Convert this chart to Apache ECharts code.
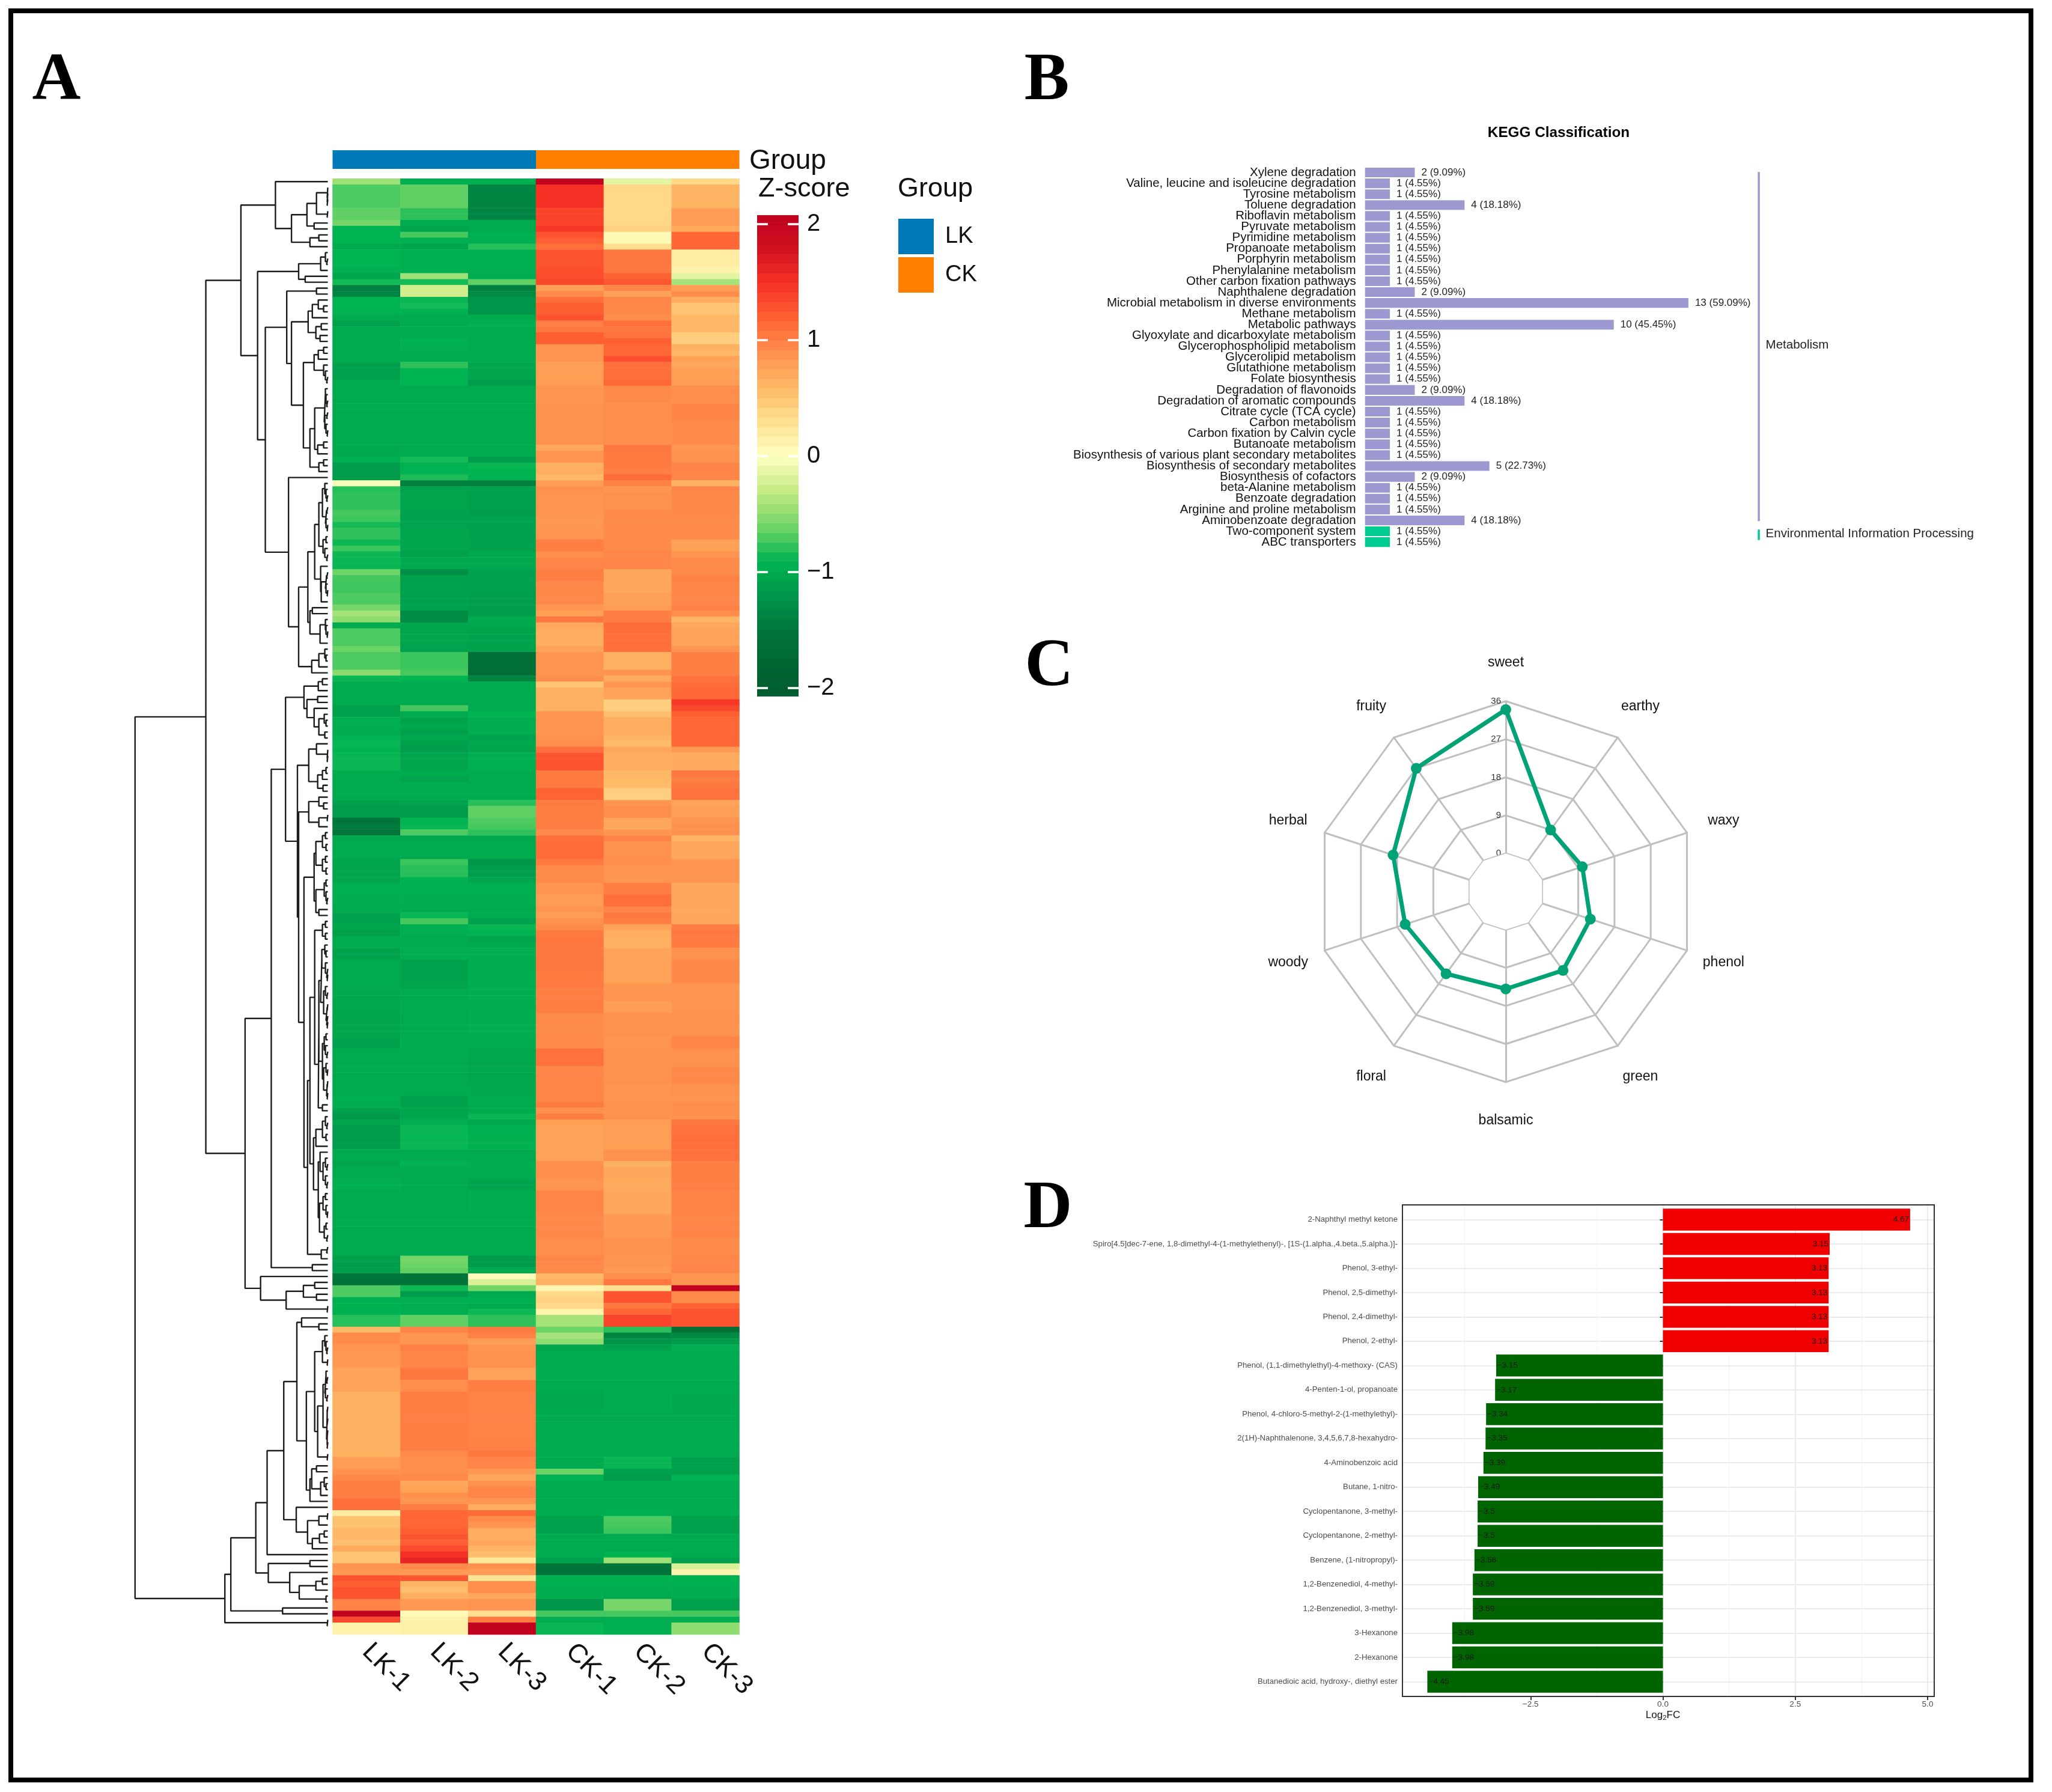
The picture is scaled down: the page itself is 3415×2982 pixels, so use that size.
<!DOCTYPE html>
<html><head><meta charset="utf-8">
<style>html,body{margin:0;padding:0;background:#fff}#c{width:3415px;height:2982px}</style>
<script src="https://cdn.jsdelivr.net/npm/echarts@6/dist/echarts.min.js"></script>
</head><body><div id="c"></div>
<script>
// ---------- Panel A: heatmap ----------
const samples = ['LK-1','LK-2','LK-3','CK-1','CK-2','CK-3'];
const groupNames = ['LK','CK'];
const groupSizes = [3,3];
const zTicks = [2,1,0,-1,-2];
// each band: [row count, z-score per sample]
const heatBands = [
[1,-.45,-.95,-.95,2.05,-.15,.35],[4,-.7,-.65,-1.35,1.5,.35,.62],[2,-.65,-.78,-1.35,1.38,.35,.8],[1,-.6,-1,-1,1.38,.35,.8],
[1,-.9,-1.05,-1,1.45,.4,.7],[1,-.9,-.72,-.95,1.28,.06,1.15],[1,-.9,-.95,-.95,1.2,.06,1.15],[1,-1,-1.05,-.8,1.1,.3,1.15],
[3,-.9,-.95,-.95,1.27,1.05,.18],[1,-.95,-.95,-.95,1.3,1.05,.12],[1,-1.05,-.45,-1,1.32,1.18,-.15],[1,-.85,-.85,-.65,1.35,1.25,-.42],
[1,-1.4,-.25,-1.4,.78,.95,.78],[1,-1.35,-.25,-1.3,.92,.76,.9],[1,-.9,-.88,-1.2,1.1,.95,.68],[1,-.9,-.85,-1.2,1.2,.93,.5],
[1,-.92,-.92,-1.2,1.2,.93,.5],[1,-1,-1,-1,1.27,.9,.6],[1,-1.1,-1,-.95,1,1.1,.6],[1,-1,-1,-1,1.05,1.05,.6],
[1,-1,-1,-1,1.2,1.07,.42],[1,-1,-.92,-1,1.2,1.2,.42],[1,-1,-.95,-1,.85,1.15,.65],[1,-1,-1,-1,.85,1.15,.6],
[1,-1,-1,-1,.85,1.3,.75],[1,-1.1,-.78,-1.05,.78,1.1,.72],[1,-1.1,-.9,-1.05,.78,1.1,.78],[1,-1.1,-.9,-1.05,.78,1.1,.78],
[1,-1,-.9,-1.15,.8,1.15,.8],[3,-1,-1,-1,.85,.92,.9],[3,-1,-1,-1,.87,.9,.96],
[4,-1,-1,-1,.88,.9,.92],[1,-1,-1,-1,.72,1.05,.85],[1,-1.02,-1,-1,.85,1.03,.88],[1,-.95,-.85,-1.12,.85,1.03,.88],
[1,-1.15,-.92,-.88,.65,1.03,.95],[1,-1.15,-.92,-.9,.68,1,.95],[1,-1.15,-.82,-.92,.6,1.12,.95],[1,-.05,-1.4,-1.4,.8,.98,.65],
[1,-.8,-1.08,-1.08,.88,.85,.95],[3,-.78,-1.05,-1.1,.85,.88,.93],[1,-.72,-1.08,-1.12,.85,.92,.93],[1,-.74,-1.08,-1.08,.83,.92,.92],
[1,-.85,-1.08,-1.08,.83,.92,.92],[2,-.78,-1.05,-1.08,.85,.92,.92],[1,-.87,-1.05,-1.08,1,.92,.76],[1,-.75,-1.05,-1.08,1,.92,.76],
[1,-.87,-1.1,-1.02,.9,.95,.85],[2,-.88,-1.02,-1.02,.95,.95,.92],[1,-.62,-1.25,-1.08,1,.72,.92],[1,-.72,-1.1,-1.08,1,.72,.98],
[2,-.74,-1.07,-1.1,.93,.72,.95],[2,-.7,-1.1,-1.12,.93,.78,.95],[1,-.6,-1.07,-1.12,.85,.8,.98],[1,-.42,-1.3,-1.12,.78,1,.9],
[1,-.5,-1.3,-1,1.05,1,.62],[1,-1,-1.05,-1.03,.72,1.12,.72],[3,-.7,-1.05,-1.07,.68,1.1,.75],[1,-.62,-1.08,-1.08,.75,1.08,.85],
[3,-.7,-.75,-1.6,.85,.65,1],
[1,-.52,-.72,-1.65,.85,.85,1],[1,-.88,-.9,-1.35,.9,.7,1.08],[1,-1,-1,-1,.5,.85,1.12],[2,-1,-1,-1,.65,.75,1.15],
[1,-1,-1,-1,.65,.42,1.45],[1,-1.1,-.72,-1,.65,.42,1.35],[1,-1.1,-1,-.9,.85,.55,1.2],[1,-.95,-1.08,-.97,.85,.68,1.15],
[1,-.97,-1.02,-.97,.85,.68,1.15],[1,-.98,-1.1,-.97,.85,.68,1.15],[1,-.92,-1.02,-1.07,.87,.62,1.15],[1,-.88,-1.1,-1.02,.9,.58,1.15],
[1,-.9,-1.12,-1.05,1.1,.72,.82],[3,-.88,-1.05,-.95,1.27,.68,.7],[1,-.98,-1,-1,1.03,.6,1.05],[1,-1,-1.06,-1,1.03,.6,1],
[1,-1,-.97,-1,1.03,.58,1.05],[2,-1,-1,-1,1.18,.42,1.08],[1,-1.1,-1.08,-.8,1.02,.85,.75],[2,-1.15,-1.15,-.65,1,.9,.78],
[1,-1.5,-.9,-.7,1,.72,.85],[1,-1.45,-.88,-.72,1,.72,.88],[1,-1.5,-.7,-.78,.92,.85,.88],[1,-1.02,-1.02,-1.02,1.1,.97,.62],
[3,-1,-1,-1,1.12,.88,.72],[1,-1.05,-.75,-1.2,1.03,.9,.85],[2,-1.05,-.8,-1.12,.92,.85,.85],[1,-1.05,-.92,-1.05,.92,.85,.85],
[2,-.95,-.95,-.95,.85,1,.72],[2,-.97,-.97,-.97,.8,1.1,.72],[1,-1,-1,-1,.85,.95,.72],
[1,-1.08,-.88,-1,.8,1.05,.72],[1,-1.08,-.72,-1.07,.88,1,.72],[1,-1.05,-.95,-.88,.92,.75,1],[1,-1.1,-.95,-.92,1.03,.68,1.05],
[1,-1,-1,-1.05,1.05,.65,1.02],[1,-1,-1,-1.02,1.05,.65,1.02],[2,-1.08,-.97,-.97,1.05,.75,.88],[2,-1,-1.07,-.97,1.05,.75,.93],
[2,-1,-1.07,-.97,1.02,.75,.93],[1,-1,-1.05,-.97,1.02,.85,.85],[2,-1.03,-1,-.97,1,.85,.85],[1,-1.03,-.97,-.97,1,.78,.85],
[1,-1.03,-1,-.97,1,.8,.85],[4,-1.05,-1,-.97,.92,.88,.87],[2,-1.08,-.97,-.98,.92,.85,.95],[3,-1,-1,-1.03,1.08,.88,.88],
[3,-1,-1,-1.03,.95,.88,.93],[2,-1,-1,-1.02,.95,.85,.88],[1,-.95,-1.1,-1,.95,.85,.85],[1,-.97,-1.08,-1,1.03,.88,.9],
[1,-1.08,-1.05,-1,.88,.88,.9],[1,-1.18,-1.05,-.88,1,.88,.88],[1,-1.05,-.95,-1.03,.78,.8,1.05],[2,-1.15,-.88,-.93,.75,.78,1.08],
[2,-1.15,-.88,-.93,.75,.78,1.1],[2,-1,-1,-1,.75,.88,1.08],
[1,-1.05,-.92,-.97,.88,.65,1],[2,-1,-1,-.98,.9,.72,1],[2,-.95,-1,-1.06,.85,.7,1],[4,-1,-1,-.97,.95,.72,.97],
[4,-1,-1,-1,.93,.82,.95],[3,-1,-1,-1,.9,.88,.92],[1,-1.1,-.6,-1.15,.95,.85,.95],[1,-1.13,-.62,-1.15,.93,.85,.95],
[1,-1.12,-.65,-1,.93,.82,.95],[1,-1.5,-1.5,.05,.6,.9,.85],[1,-1.55,-1.55,-.2,.65,1.05,.85],[1,-.7,-.87,-.6,.1,.3,2.05],
[1,-.7,-1.15,-1,.35,1.27,.92],[1,-.95,-.95,-.95,.4,1.27,.92],[1,-.93,-.97,-1,.35,1.05,1.18],[1,-.93,-.97,-.87,.12,1.15,1.27],
[2,-.8,-.65,-.78,-.42,1.38,1.27],[1,.6,.97,1.03,-.62,-.8,-1.6],[1,.92,.85,.98,-.42,-1.35,-1.3],[1,.92,.85,.8,-.5,-1.2,-1.15],
[1,.85,1,.85,-1.05,-1.1,-.95],[3,.82,.95,.87,-1,-1,-1],[2,.75,1.05,.75,-1,-1,-1],[2,.75,.9,1,-1,-1,-1],[3,.65,1,.97,-1.03,-.97,-1.02],
[5,.65,1,.97,-1,-1,-1],[2,.65,1,.98,-1,-1,-1],[1,.65,.92,1.05,-1,-1,-1],[2,.8,.9,.95,-1,-.88,-1.1],[1,.87,.9,.82,-.62,-1.1,-1.1],
[1,.93,.93,.72,-.93,-1.15,-.92],[1,1,.72,.87,-1,-1,-1],[1,1,.75,.95,-1,-1,-1],[1,1,.87,.95,-1,-1,-1],[1,1.1,.85,.85,-1,-1,-1],
[1,1.1,1,.68,-1,-1,-1],[1,.18,1.15,1.12,-.97,-.95,-.97],[1,.52,1.15,.92,-1.07,-.7,-1.07],[1,.52,1.15,.85,-1.08,-.72,-1.08],
[1,.6,1.2,.68,-1.08,-.75,-1.08],[1,.6,1.27,.68,-1,-1,-1],[1,.55,1.2,.72,-1,-1,-1],[1,.7,1.33,.62,-1,-1,-1],[1,.5,1.5,.55,-1,-.9,-1],
[1,.5,1.6,.22,-1.08,-.45,-1.1],[1,.85,.93,.88,-1.55,-1.55,-.2],[1,.82,.82,.8,-1.55,-1.55,.1],[1,1.27,1.25,.25,-.93,-.93,-.93],
[1,1.2,.62,.9,-.95,-.95,-.95],[1,1.27,.55,.9,-.97,-.97,-.97],[1,1.27,.68,.72,-.97,-1.02,-.97],[2,.97,.82,.85,-1.2,-.58,-1.1],
[1,2.05,.05,.3,-.72,-.72,-.72],[1,1.35,.12,1.03,-.97,-.97,-.97],[2,.12,.14,2.05,-.88,-.95,-.5]
];
const zColors = ['#005a2e','#006633','#00753a','#00964a','#00b452','#74d568','#c5ea84','#ffffc0','#ffdf8f','#ffb866','#ff8e4c','#ff5f33','#f53025','#d01020','#bf0020'];
// dendrogram: node = [merge height, upper child, lower child]; L = a single row
const L = 0;
const clusterTop = [88,L,[61,[35,[19,[1,L,[1,L,[1,L,L]]],[1,L,L]],[23,L,L]],[30,[15,L,L],L]]];
const clusterG = [49,[12,[4,L,[2,L,L]],L],[38,L,L]];
const clusterI = [69,[19,L,L],[61,
  [33,[26,[16,L,[7,L,L]],L],[20,[11,L,L],[13,L,L]]],
  [41,[23,[16,[7,L,L],L],[7,L,[4,L,[2,L,L]]]],
      [30,[22,[6,[4,L,[3,L,[2,L,L]]],[5,[2,L,L],[3,L,[1,L,L]]]],[17,[7,L,L],L]],[15,[7,L,L],L]]]]];
const clusterO = [49,
  [33.5,[22,[15,[9,[5,L,[3,L,[2,L,L]]],[4,[2,L,L],[3,L,[1,L,L]]]],[8,[3,L,L],[5,L,[2,L,L]]]],
            [12,L,[11,[4,[2,L,L],[3,L,[1,L,L]]],L]]],
        [30,[26,L,L],[13,[4,L,[3,L,[1,L,L]]],L]]],
  [27,[15,[5,L,[3,L,L]],L],L]];
const clusterT = [40,[16,[9,L,L],L],[35,[17,L,L],[23,L,[15,[6,L,[3,L,L]],[5,L,L]]]]];
const clusterW6 = [22,[9,[4,L,L],[4,L,L]],[16,[15,
  [12,[10,[5,L,[3,L,L]],[4,L,[2,L,[1,L,L]]]],[7,[4,L,[2,L,L]],[3,[1,L,L],[2,L,[1,L,L]]]]],
  [9,[6,[3,L,L],[4,L,[2,L,L]]],[7,[3,L,[1,L,L]],[2,[1,L,L],[1,L,L]]]]],[9,L,L]]];
const clusterW7 = [24,[20,[9,[4,L,[2,L,L]],[3,L,L]],L],[16,[13,L,[8,[4,L,[2,L,L]],[4,L,[2,L,L]]]],[14,[8,[4,L,L],[3,L,[1,L,L]]],[6,[3,L,L],[2,L,L]]]]];
const clusterW = [49,[32,[15,L,[7,L,L]],[15,[1,L,L],L]],[40,
  [23,[20,[9,[4,L,L],[3,L,L]],[9,[4,L,L],[3,L,L]]],[20,[6,[3,L,L],[3,L,[2,L,L]]],[15,L,L]]],
  [34,[30,clusterW6,clusterW7],[11,[2,L,L],L]]]];
const clusterP = [71,clusterT,[51,[32,[19,L,[1,L,[1,L,L]]],[17,[9,[3,L,L],L],[8,L,L]]],clusterW]];
const clusterR = [139,[95,clusterP,[26,L,L]],[113,L,[70,[41,[22,L,L],[19,L,L]],[1,L,L]]]];
const clusterA = [205,[146,clusterTop,[118,clusterG,[105,clusterI,[66,L,clusterO]]]],clusterR];
const cluster495 = [52,[44,L,[15,L,L]],[36,
  [22,[9,[5,L,[3,L,[2,L,L]]],[1,L,L]],[17,[8,[5,[3,L,[2,L,L]],[4,L,[2,L,L]]],[2,[1,[1,L,L],[1,L,L]],[1,[1,L,L],[1,L,L]]]],[1,L,L]]],
  [30,[27,[19,L,L],[12,[6,L,[3,L,L]],L]],L]]];
const cluster493 = [53,L,[34,[15,[1,L,L],L],[26,[14,[6,L,L],L],L]]];
const clusterB = [173,[163,[121,[102,[74,cluster495,cluster493],L],[100,[30,L,L],[64,L,[48,[20,[9,L,L],L],[3,L,L]]]]],[76,L,L]],[1,L,L]];
const rowTree = [324,clusterA,clusterB];

// ---------- Panel B: KEGG ----------
const keggPathways = ['Xylene degradation','Valine, leucine and isoleucine degradation','Tyrosine metabolism','Toluene degradation','Riboflavin metabolism','Pyruvate metabolism','Pyrimidine metabolism','Propanoate metabolism','Porphyrin metabolism','Phenylalanine metabolism','Other carbon fixation pathways','Naphthalene degradation','Microbial metabolism in diverse environments','Methane metabolism','Metabolic pathways','Glyoxylate and dicarboxylate metabolism','Glycerophospholipid metabolism','Glycerolipid metabolism','Glutathione metabolism','Folate biosynthesis','Degradation of flavonoids','Degradation of aromatic compounds','Citrate cycle (TCA cycle)','Carbon metabolism','Carbon fixation by Calvin cycle','Butanoate metabolism','Biosynthesis of various plant secondary metabolites','Biosynthesis of secondary metabolites','Biosynthesis of cofactors','beta-Alanine metabolism','Benzoate degradation','Arginine and proline metabolism','Aminobenzoate degradation','Two-component system','ABC transporters'];
const keggCounts = [2,1,1,4,1,1,1,1,1,1,1,2,13,1,10,1,1,1,1,1,2,4,1,1,1,1,1,5,2,1,1,1,4,1,1];
const keggPercents = ['9.09','4.55','4.55','18.18','4.55','4.55','4.55','4.55','4.55','4.55','4.55','9.09','59.09','4.55','45.45','4.55','4.55','4.55','4.55','4.55','9.09','18.18','4.55','4.55','4.55','4.55','4.55','22.73','9.09','4.55','4.55','4.55','18.18','4.55','4.55'];
const keggClassSpans = [['Metabolism',-0.05,15.9,32.05],['Environmental Information Processing',32.85,33.25,33.8]];

// ---------- Panel C: radar ----------
const aromaNames = ['sweet','fruity','herbal','woody','floral','balsamic','green','phenol','waxy','earthy'];
const aromaCounts = [34,27,19,16,15,14,14,12,10,9];

// ---------- Panel D: log2FC ----------
const compounds = ['2-Naphthyl methyl ketone','Spiro[4.5]dec-7-ene, 1,8-dimethyl-4-(1-methylethenyl)-, [1S-(1.alpha.,4.beta.,5.alpha.)]-','Phenol, 3-ethyl-','Phenol, 2,5-dimethyl-','Phenol, 2,4-dimethyl-','Phenol, 2-ethyl-','Phenol, (1,1-dimethylethyl)-4-methoxy- (CAS)','4-Penten-1-ol, propanoate','Phenol, 4-chloro-5-methyl-2-(1-methylethyl)-','2(1H)-Naphthalenone, 3,4,5,6,7,8-hexahydro-','4-Aminobenzoic acid','Butane, 1-nitro-','Cyclopentanone, 3-methyl-','Cyclopentanone, 2-methyl-','Benzene, (1-nitropropyl)-','1,2-Benzenediol, 4-methyl-','1,2-Benzenediol, 3-methyl-','3-Hexanone','2-Hexanone','Butanedioic acid, hydroxy-, diethyl ester'];
const log2FC = [4.67,3.15,3.13,3.13,3.13,3.13,-3.15,-3.17,-3.34,-3.35,-3.39,-3.49,-3.5,-3.5,-3.56,-3.59,-3.59,-3.98,-3.98,-4.45];
const log2Ticks = [-2.5,0,2.5,5];

const FONT = '"Liberation Sans", Arial, sans-serif';
const minusFmt = v => String(v).replace('-', '\u2212');

// build heatmap cells
const heatCells = [];
let rowCount = 0;
heatBands.forEach(b => {
  for (let i = 0; i < b[0]; i++) {
    samples.forEach((s, c) => heatCells.push([c, rowCount, b[c + 1]]));
    rowCount++;
  }
});
const rowIds = Array.from({length: rowCount}, (_, i) => String(i));

// build dendrogram polylines from the tree
const dendroPts = [];
let nextLeaf = 0;
function walk(n) {
  if (n === L) return {h: 0, y: nextLeaf++};
  const a = walk(n[1]), b = walk(n[2]);
  dendroPts.push([a.h, a.y], [n[0], a.y], [n[0], b.y], [b.h, b.y], ['-', '-']);
  return {h: n[0], y: (a.y + b.y) / 2};
}
walk(rowTree);

// colorbar steps
const cbStep = 4.14 / 50;
const cbData = [];
for (let i = 0; i < 50; i++) { const m = -2.07 + (i + .5) * cbStep; cbData.push([.5, m, m]); }

const grids = [], xAxes = [], yAxes = [], series = [];
function addGrid(g, x, y) {
  grids.push(g); const i = grids.length - 1;
  xAxes.push(Object.assign({gridIndex: i}, x)); yAxes.push(Object.assign({gridIndex: i}, y));
  return {grid: i, x: xAxes.length - 1, y: yAxes.length - 1};
}
const hidden = {show: false};

// heat grid
const gHeat = addGrid({left: 553.5, top: 297.3, width: 677, height: 2422.7},
  {type: 'category', data: samples, axisLine: hidden, axisTick: hidden, splitLine: hidden,
   axisLabel: {interval: 0, rotate: -45, fontFamily: FONT, fontSize: 44, color: '#111', margin: 22}},
  {type: 'category', data: rowIds, inverse: true, axisLine: hidden, axisTick: hidden, axisLabel: hidden, splitLine: hidden});
series.push({type: 'heatmap', name: 'Z-score', xAxisIndex: gHeat.x, yAxisIndex: gHeat.y, data: heatCells, silent: true});
const heatIdx = series.length - 1;

// dendrogram grid
const gDen = addGrid({left: 218.8, top: 297.3, width: 326.7, height: 2422.7},
  {type: 'value', min: 0, max: 330, inverse: true, show: false},
  {type: 'value', min: -0.5, max: rowCount - 0.5, inverse: true, show: false});
series.push({type: 'line', name: 'Row dendrogram', xAxisIndex: gDen.x, yAxisIndex: gDen.y, data: dendroPts, showSymbol: false, symbol: 'none', clip: false, silent: true,
  connectNulls: false, lineStyle: {color: '#1c1c1c', width: 2.4}});

// annotation bar
const gAnn = addGrid({left: 553.5, top: 250, width: 677, height: 31},
  {type: 'value', min: 0, max: 6, show: false},
  {type: 'category', data: ['Group'], show: false});
groupNames.forEach((n, i) => series.push({type: 'bar', name: n, stack: 'grp', xAxisIndex: gAnn.x, yAxisIndex: gAnn.y, data: [groupSizes[i]], barWidth: '100%', silent: true,
  itemStyle: {color: ['#0079b8', '#ff8000'][i]}}));

// colour bar
const gCb = addGrid({left: 1260, top: 359, width: 69, height: 799},
  {type: 'value', min: 0, max: 1, show: false},
  {type: 'value', min: -2.07, max: 2.07, axisLine: hidden, splitLine: hidden, z: 10,
   axisTick: {show: true, inside: true, length: 18, lineStyle: {color: '#fff', width: 3.5}, customValues: zTicks},
   axisLabel: {show: false}});
yAxes.push({gridIndex: gCb.grid, type: 'value', position: 'right', min: -2.07, max: 2.07, axisLine: hidden, splitLine: hidden, z: 10,
   axisTick: {show: true, inside: true, length: 18, lineStyle: {color: '#fff', width: 3.5}, customValues: zTicks},
   axisLabel: {show: true, margin: 14, fontFamily: FONT, fontSize: 40, color: '#111', customValues: zTicks, formatter: minusFmt}});
series.push({type: 'custom', name: 'Z-score scale', xAxisIndex: gCb.x, yAxisIndex: gCb.y, data: cbData, silent: true, clip: false,
  encode: {x: 0, y: 1},
  renderItem: (p, api) => {
    const m = api.value(1);
    const a = api.coord([0, m + cbStep / 2]), b = api.coord([1, m - cbStep / 2]);
    return {type: 'rect', shape: {x: a[0], y: Math.floor(a[1]), width: b[0] - a[0], height: Math.ceil(b[1] - a[1]) + 1}, style: {fill: api.visual('color')}};
  }});
const cbIdx = series.length - 1;

// KEGG
const gK = addGrid({left: 2271.7, top: 278, width: 703.8, height: 633.2},
  {type: 'value', min: 0, max: 17, show: false},
  {type: 'category', data: keggPathways, inverse: true, axisLine: hidden, axisTick: hidden, splitLine: hidden,
   axisLabel: {interval: 0, fontFamily: FONT, fontSize: 20.5, color: '#111', margin: 15}});
yAxes.push({gridIndex: gK.grid, type: 'value', position: 'right', min: -0.5, max: 34.5, inverse: true, show: false});
const kSpanAxis = yAxes.length - 1;
series.push({type: 'bar', name: 'KEGG', xAxisIndex: gK.x, yAxisIndex: gK.y, data: keggCounts.map((v, i) => ({value: v, itemStyle: {color: i < 33 ? '#9c98d0' : '#00cc92'}})),
  barCategoryGap: '11%', silent: true,
  label: {show: true, position: 'right', distance: 11, fontFamily: FONT, fontSize: 17, color: '#222',
    formatter: p => p.value + ' (' + keggPercents[p.dataIndex] + '%)'}});
keggClassSpans.forEach((s, i) => series.push({type: 'line', name: s[0], xAxisIndex: gK.x, yAxisIndex: kSpanAxis, silent: true, clip: false,
  symbol: 'circle', symbolSize: 1, showSymbol: true, showAllSymbol: true, labelLayout: {hideOverlap: false},
  itemStyle: {color: i ? '#00cc92' : '#9c98d0'},
  lineStyle: {color: i ? '#00cc92' : '#9c98d0', width: 3.5},
  label: {show: true, position: 'right', distance: 11, fontFamily: FONT, fontSize: 20.5, color: '#222',
    formatter: p => (p.dataIndex === 1 ? s[0] : '')},
  data: [[15.83, s[1]], [15.83, s[2]], [15.83, s[3]]]}));

// Log2FC: back grid holds the vertical rules and x labels
const gBack = addGrid({left: 2327, top: 2005, width: 881, height: 818},
  {type: 'value', min: -5, max: 5, interval: 2.5, axisLine: hidden,
   axisTick: {show: true, length: 6, lineStyle: {color: '#333', width: 2}, customValues: log2Ticks},
   axisLabel: {show: true, customValues: log2Ticks, fontFamily: FONT, fontSize: 13.5, color: '#4d4d4d', margin: 6, formatter: v => minusFmt(Number(v).toFixed(1))},
   splitLine: {show: true, showMinLine: false, lineStyle: {color: '#ebebeb', width: 2}},
   minorTick: {show: false, splitNumber: 2},
   minorSplitLine: {show: true, lineStyle: {color: '#f2f2f2', width: 1}},
   name: 'Log{s|2}FC', nameLocation: 'middle', nameGap: 20,
   nameTextStyle: {fontFamily: FONT, fontSize: 17, color: '#111', rich: {s: {fontFamily: FONT, fontSize: 11.5, color: '#111', verticalAlign: 'bottom', padding: [10, 0, 0, 0]}}}},
  {type: 'value', min: 0, max: 1, show: false});
const gD = addGrid({left: 2334, top: 2009.2, width: 885, height: 809.6},
  {type: 'value', min: -4.92, max: 5.125, show: false},
  {type: 'category', data: compounds, inverse: true, axisLine: hidden,
   axisTick: {show: true, alignWithLabel: true, length: 5, lineStyle: {color: '#333', width: 2}},
   splitLine: {show: true, alignWithLabel: true, interval: 0, lineStyle: {color: '#ebebeb', width: 2}},
   axisLabel: {interval: 0, fontFamily: FONT, fontSize: 13.2, color: '#4d4d4d', margin: 8}});
series.push({type: 'bar', name: 'Log2FC', xAxisIndex: gD.x, yAxisIndex: gD.y, barCategoryGap: '10%', silent: true,
  data: log2FC.map(v => ({value: v, itemStyle: {color: v > 0 ? '#f00000' : '#006400'},
    label: {position: v > 0 ? 'insideRight' : 'insideLeft'}})),
  label: {show: true, distance: 2, fontFamily: FONT, fontSize: 13.5, color: '#1a1a1a', formatter: p => minusFmt(p.value)}});
addGrid({left: 2334, top: 2005, width: 885, height: 818, show: true, borderColor: '#333', borderWidth: 2, backgroundColor: 'transparent', z: 3},
  {type: 'value', min: 0, max: 1, show: false}, {type: 'value', min: 0, max: 1, show: false});

// radar series
series.push({type: 'radar', name: 'Scale floor', radarIndex: 0, silent: true, z: 2, symbol: 'none',
  lineStyle: {color: '#bfbfbf', width: 3}, areaStyle: {color: '#fff', opacity: 1},
  data: [{value: aromaNames.map(() => 0)}]});
series.push({type: 'radar', name: 'Aroma', radarIndex: 0, silent: true, z: 3, symbol: 'circle', symbolSize: 18,
  lineStyle: {color: '#00a276', width: 7}, itemStyle: {color: '#00a276'},
  data: [{value: aromaCounts}]});

const txt = (s, x, y, size, extra) => ({type: 'text', x, y, silent: true, z: 50,
  style: Object.assign({text: s, fontFamily: FONT, fontSize: size, fill: '#111', align: 'left', verticalAlign: 'middle'}, extra || {})});
const panel = (s, x, y) => txt(s, x, y, 112, {fontFamily: '"Liberation Serif", serif', fontWeight: 'bold', fill: '#000', align: 'center'});

const chart = echarts.init(document.getElementById('c'), null, {renderer: 'canvas', width: 3415, height: 2982});
chart.setOption({
  backgroundColor: '#fff', animation: false,
  textStyle: {fontFamily: FONT},
  grid: grids, xAxis: xAxes, yAxis: yAxes, series,
  visualMap: {type: 'continuous', show: false, min: -2.1, max: 2.1, dimension: 2, seriesIndex: [heatIdx, cbIdx], inRange: {color: zColors}},
  legend: {data: groupNames, orient: 'vertical', left: 1490, top: 359, itemWidth: 59, itemHeight: 59, itemGap: 5, icon: 'rect', selectedMode: false,
    textStyle: {fontFamily: FONT, fontSize: 38, color: '#111', padding: [0, 0, 0, 14]}},
  radar: {center: [2506, 1483.7], radius: 317, startAngle: 90, splitNumber: 5, shape: 'polygon', nameGap: 64,
    axisName: {color: '#111', fontFamily: FONT, fontSize: 23, align: 'center', verticalAlign: 'middle'},
    axisLine: {lineStyle: {color: '#bfbfbf', width: 3}},
    splitLine: {lineStyle: {color: '#bfbfbf', width: 3}},
    splitArea: {show: false}, axisTick: {show: false},
    indicator: aromaNames.map((n, i) => {
      const o = {name: n, min: -9, max: 36};
      if (i === 0) o.axisLabel = {show: true, fontFamily: FONT, fontSize: 15, color: '#333', margin: 8, formatter: v => (v < 0 ? '' : String(v))};
      return o;
    })},
  graphic: {elements: [
    {type: 'rect', shape: {x: 18, y: 18, width: 3362, height: 2944}, style: {fill: 'none', stroke: '#000', lineWidth: 8}, silent: true, z: 60},
    panel('A', 94, 136), panel('B', 1742, 136), panel('C', 1746, 1111), panel('D', 1744, 2013),
    txt('Group', 1247, 268, 46), txt('Z-score', 1262, 315, 45), txt('Group', 1494, 315, 45),
    txt('KEGG Classification', 2594, 221, 24.3, {fontWeight: 'bold', fill: '#000', align: 'center'})
  ]}
});
</script></body></html>
